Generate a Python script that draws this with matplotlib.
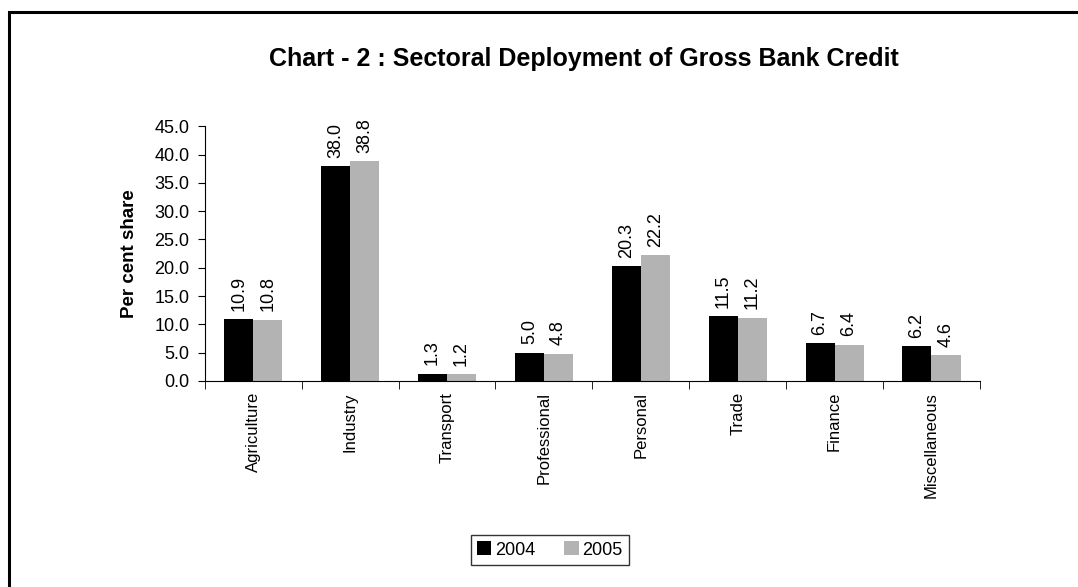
import numpy as np
import matplotlib.pyplot as plt
from matplotlib.patches import Rectangle

plt.rcParams['font.family'] = ['Liberation Sans', 'DejaVu Sans']

# data
sectors = ["Agriculture", "Industry", "Transport", "Professional",
           "Personal", "Trade", "Finance", "Miscellaneous"]
y2004 = [10.9, 38.0, 1.3, 5.0, 20.3, 11.5, 6.7, 6.2]
y2005 = [10.8, 38.8, 1.2, 4.8, 22.2, 11.2, 6.4, 4.6]
yticks = np.arange(0, 50, 5)

fig = plt.figure(figsize=(10.78, 5.87), dpi=100)
ax = fig.add_axes([0.190, 0.351, 0.719, 0.434])

# outer frame (only left and top visible)
fig.patches.append(Rectangle((9/1078, -0.1), 1.2, 1 - 12/587 + 0.1,
                             transform=fig.transFigure, fill=False,
                             edgecolor='black', linewidth=2.2))

x = np.arange(len(sectors))
w = 0.3
b1 = ax.bar(x - w/2, y2004, w, color='black', label='2004')
b2 = ax.bar(x + w/2, y2005, w, color='#b3b3b3', label='2005')

for bars in (b1, b2):
    for r in bars:
        ax.annotate("%.1f" % r.get_height(),
                    (r.get_x() + r.get_width()/2, r.get_height()),
                    xytext=(0, 6), textcoords='offset points',
                    rotation=90, ha='center', va='bottom', fontsize=13)

ax.set_xlim(-0.5, len(sectors) - 0.5)
ax.set_ylim(0, 45)
ax.set_yticks(yticks)
ax.set_yticklabels(["%.1f" % v for v in yticks], fontsize=13)
ax.set_xticks(x)
ax.set_xticklabels(sectors, rotation=90, fontsize=12)
ax.tick_params(axis='x', length=0, pad=8)
ax.set_xticks(np.arange(-0.5, len(sectors), 1), minor=True)
ax.tick_params(axis='x', which='minor', length=6, direction='out')
ax.tick_params(axis='y', length=5, direction='out', pad=6)
ax.spines['top'].set_visible(False)
ax.spines['right'].set_visible(False)
ax.set_ylabel("Per cent share", fontsize=13.5, fontweight='bold', labelpad=12)

fig.text(0.542, 0.9, "Chart - 2 : Sectoral Deployment of Gross Bank Credit",
         ha='center', va='center', fontsize=18, fontweight='bold')

leg = fig.legend(loc='center', bbox_to_anchor=(0.51, 0.063), ncol=2,
                 frameon=True, fancybox=False, edgecolor='black',
                 fontsize=13, handlelength=0.8, handleheight=0.8,
                 handletextpad=0.2, columnspacing=1.6, borderpad=0.35)
leg.get_frame().set_linewidth(1.0)

fig.savefig("out.png", dpi=100)
